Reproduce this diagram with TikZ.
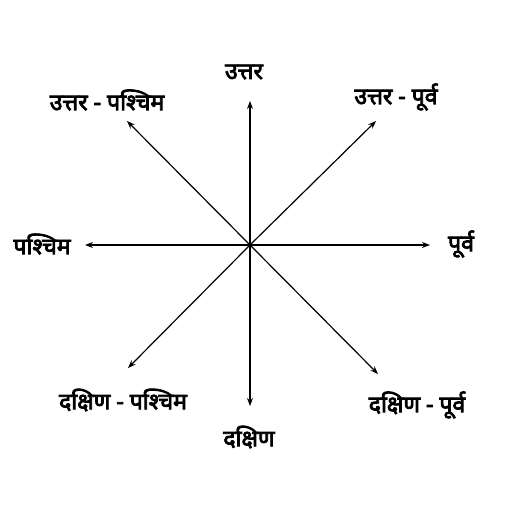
\documentclass[tikz,border=0pt]{standalone}
\usepackage{fontspec}
\newfontfamily\deva[Script=Devanagari,FakeBold=3.5]{Noto Sans}
\usetikzlibrary{arrows.meta}
\begin{document}
\begin{tikzpicture}[x=1pt,y=-1pt,
  lbl/.style={font=\deva\fontsize{23}{25}\selectfont, inner sep=0pt},
  dirarrow/.style={line width=1.2pt, -{Stealth[length=8pt,width=6pt]}}]
\useasboundingbox (0,0) rectangle (512,512);
\coordinate (c) at (250,245);
\coordinate (n) at (250,101);
\coordinate (s) at (250,406);
\coordinate (w) at (85,245);
\coordinate (e) at (430,245);
\coordinate (ne) at (376,121);
\coordinate (nw) at (127,121);
\coordinate (sw) at (128,368);
\coordinate (se) at (378,374);
\foreach \d in {n,s,w,e,ne,nw,sw,se} \draw[dirarrow] (c) -- (\d);
\node[lbl] (ln) at (244,72) {उत्तर};
\node[lbl] (lnw) at (107,100) {उत्तर - पश्चिम};
\node[lbl] (lne) at (396,97) {उत्तर - पूर्व};
\node[lbl] (lw) at (42,244) {पश्चिम};
\node[lbl] (le) at (461,244) {पूर्व};
\node[lbl] (lsw) at (123,400) {दक्षिण - पश्चिम};
\node[lbl] (ls) at (249,437) {दक्षिण};
\node[lbl] (lse) at (417,405) {दक्षिण - पूर्व};
\end{tikzpicture}
\end{document}
